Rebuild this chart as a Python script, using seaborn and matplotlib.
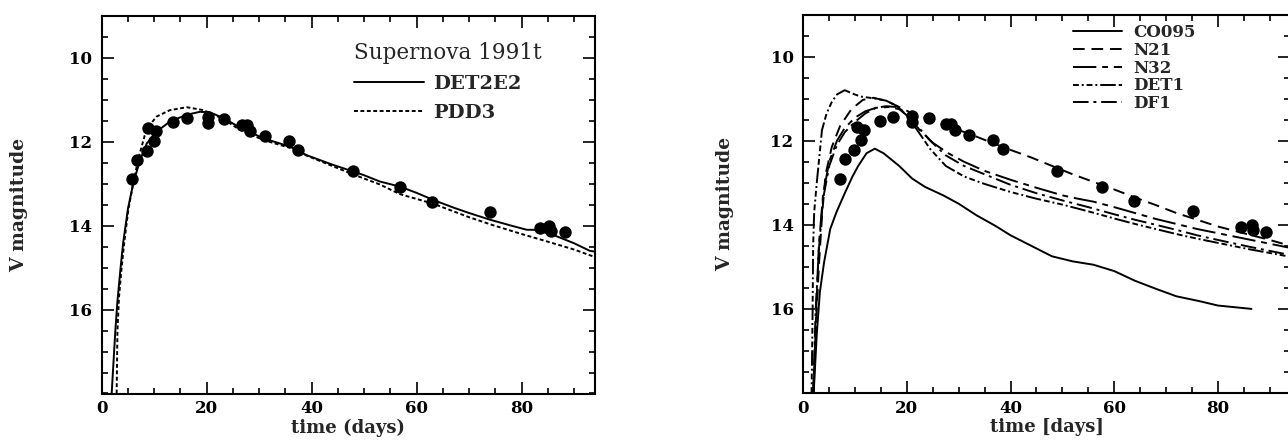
import matplotlib
matplotlib.use("Agg")
import matplotlib.pyplot as plt
from matplotlib.ticker import MultipleLocator
from matplotlib.font_manager import FontProperties
import seaborn as sns

# ---------------- data ----------------
# observed V magnitudes of SN 1991T
obs_mag = [12.9, 12.43, 12.23, 11.67, 11.99, 11.75, 11.54, 11.43, 11.41, 11.55,
           11.46, 11.6, 11.6, 11.74, 11.87, 11.99, 12.19, 12.71, 13.09, 13.43,
           13.68, 14.05, 14.0, 14.12, 14.16]
obs_t_left = [5.8, 6.8, 8.7, 8.9, 10.0, 10.4, 13.6, 16.3, 20.2, 20.2,
              23.3, 26.8, 27.6, 28.2, 31.1, 35.6, 37.5, 47.8, 56.8, 62.9,
              73.9, 83.5, 85.2, 85.6, 88.2]
obs_t_right = [7.0, 8.0, 9.8, 10.3, 11.1, 11.7, 14.9, 17.4, 20.9, 20.9,
               24.3, 27.5, 28.5, 29.3, 32.0, 36.7, 38.5, 48.9, 57.7, 63.9,
               75.3, 84.5, 86.6, 86.8, 89.4]

# left panel models
det2e2_t = [1.9, 2.6, 3.0, 3.6, 4.1, 5.0, 6.0, 7.3, 8.6, 10.5, 13.0, 16.2, 18.7, 20.6,
            23.2, 26.3, 30.8, 35.9, 39.0, 44.0, 47.9, 50.0, 53.0, 56.8, 60.0, 63.2,
            67.0, 70.0, 74.0, 78.0, 81.0, 82.5, 86.0, 90.0, 93.0, 94.0]
det2e2_m = [18.0, 16.5, 15.8, 15.0, 14.4, 13.6, 13.0, 12.44, 12.04, 11.76, 11.52, 11.36,
            11.29, 11.3, 11.44, 11.66, 11.92, 12.12, 12.32, 12.55, 12.71, 12.8, 12.95,
            13.07, 13.22, 13.39, 13.57, 13.7, 13.86, 14.0, 14.1, 14.1, 14.22, 14.42,
            14.6, 14.62]
pdd3_t = [2.85, 3.0, 3.3, 3.8, 4.3, 5.1, 6.0, 7.0, 8.2, 9.5, 10.5, 13.0, 16.2, 19.4,
          23.2, 26.3, 30.8, 35.9, 39.0, 47.9, 53.0, 56.8, 63.2, 70.0, 74.3, 80.0,
          86.0, 90.0, 94.0]
pdd3_m = [18.0, 16.5, 15.7, 15.0, 14.4, 13.6, 13.0, 12.4, 11.85, 11.55, 11.4, 11.25,
          11.18, 11.25, 11.46, 11.72, 11.96, 12.15, 12.33, 12.78, 13.02, 13.25, 13.48,
          13.8, 13.98, 14.2, 14.42, 14.57, 14.75]

# right panel models
co095_t = [2.0, 2.6, 3.2, 4.0, 5.2, 6.4, 8.0, 9.5, 10.6, 12.2, 13.8, 15.5, 18.5, 21.0,
           23.5, 27.0, 30.0, 33.5, 37.0, 40.0, 44.0, 48.0, 52.0, 56.0, 60.0, 64.0,
           68.0, 72.0, 76.6, 80.0, 86.5]
co095_m = [18.0, 16.6, 15.6, 14.9, 14.1, 13.7, 13.25, 12.85, 12.6, 12.3, 12.19, 12.3,
           12.6, 12.9, 13.1, 13.3, 13.5, 13.78, 14.02, 14.25, 14.5, 14.75, 14.87,
           14.95, 15.1, 15.33, 15.52, 15.7, 15.82, 15.92, 16.0]
n21_t = [1.9, 2.4, 3.0, 3.6, 4.3, 5.5, 7.1, 9.3, 11.5, 13.5, 16.0, 18.5, 21.0, 24.4,
         28.0, 32.3, 36.0, 40.0, 44.0, 48.0, 52.0, 56.0, 60.0, 64.0, 68.0, 72.0,
         76.0, 80.0, 85.0, 90.0, 94.0]
n21_m = [18.0, 16.5, 15.0, 13.8, 12.8, 12.15, 11.65, 11.25, 11.03, 10.98, 11.05, 11.2,
         11.35, 11.5, 11.66, 11.85, 12.03, 12.22, 12.4, 12.6, 12.8, 12.98, 13.16,
         13.35, 13.53, 13.72, 13.88, 14.04, 14.2, 14.36, 14.5]
n32_t = [2.0, 2.5, 3.0, 3.8, 5.0, 6.5, 8.0, 10.0, 12.0, 14.0, 16.5, 18.5, 20.5, 22.5,
         25.0, 28.0, 31.0, 35.0, 40.0, 45.0, 50.0, 53.0, 56.0, 60.0, 64.0, 68.0,
         72.0, 76.0, 80.0, 86.0, 90.0, 94.0]
n32_m = [18.0, 16.0, 14.5, 13.3, 12.5, 12.0, 11.7, 11.45, 11.3, 11.22, 11.2, 11.25,
         11.45, 11.75, 12.05, 12.3, 12.5, 12.72, 12.93, 13.12, 13.3, 13.38, 13.45,
         13.58, 13.72, 13.86, 13.98, 14.1, 14.2, 14.35, 14.45, 14.55]
det1_t = [1.6, 1.8, 1.9, 2.1, 2.6, 3.6, 4.5, 5.5, 6.5, 8.0, 9.5, 11.0, 14.0, 16.0,
          18.0, 20.0, 22.0, 24.5, 27.5, 31.0, 35.0, 40.0, 45.0, 50.0, 55.0, 60.0,
          64.0, 68.0, 72.0, 76.0, 80.0, 86.0, 90.0, 94.0]
det1_m = [18.0, 16.0, 14.5, 13.7, 13.0, 11.75, 11.35, 11.08, 10.9, 10.8, 10.88, 10.95,
          11.0, 11.05, 11.17, 11.4, 11.75, 12.2, 12.6, 12.85, 13.03, 13.22, 13.38,
          13.52, 13.68, 13.85, 13.98, 14.1, 14.22, 14.33, 14.43, 14.58, 14.67, 14.76]
df1_t = [1.9, 2.4, 3.0, 3.8, 5.0, 6.5, 8.0, 10.0, 12.0, 14.0, 16.0, 18.0, 20.0, 22.0,
         24.5, 27.5, 31.0, 35.0, 40.0, 45.0, 50.0, 55.0, 60.0, 64.0, 68.0, 72.0,
         76.0, 80.0, 86.0, 90.0, 94.0]
df1_m = [18.0, 16.0, 14.6, 13.4, 12.6, 12.1, 11.8, 11.55, 11.35, 11.22, 11.18, 11.2,
         11.35, 11.65, 12.0, 12.35, 12.6, 12.8, 13.05, 13.25, 13.42, 13.58, 13.75,
         13.88, 14.0, 14.12, 14.25, 14.36, 14.52, 14.62, 14.72]

xticks = [0, 20, 40, 60, 80]
yticks = [10, 12, 14, 16]

# ---------------- style ----------------
sns.set_theme(style="ticks")
plt.rcParams.update({
    "font.family": ["DejaVu Serif"],
    "font.weight": "bold",
    "axes.linewidth": 1.5,
    "xtick.direction": "in", "ytick.direction": "in",
    "xtick.top": True, "ytick.right": True,
    "xtick.major.size": 8.5, "ytick.major.size": 8.5,
    "xtick.minor.size": 4.5, "ytick.minor.size": 4.5,
    "xtick.major.width": 1.2, "ytick.major.width": 1.2,
    "xtick.minor.width": 1.2, "ytick.minor.width": 1.2,
    "xtick.labelsize": 12, "ytick.labelsize": 12,
    "xtick.color": "black", "ytick.color": "black",
    "axes.edgecolor": "black",
})

fig = plt.figure(figsize=(12.88, 4.43), dpi=100)
W, H = 1288.0, 443.0
ax1 = fig.add_axes([101.7 / W, (H - 393.5) / H, 493.3 / W, 377.8 / H])
ax2 = fig.add_axes([803.3 / W, (H - 393.0) / H, 487.0 / W, 378.5 / H])

LW = 1.4
def curve(ax, t, m, ls, label):
    sns.lineplot(x=t, y=m, ax=ax, color="black", linewidth=LW, linestyle=ls,
                 estimator=None, sort=False, label=label)

def dots(ax, t, m):
    sns.scatterplot(x=t, y=m, ax=ax, color="black", s=80, linewidth=0, zorder=5)

# left panel
curve(ax1, det2e2_t, det2e2_m, "-", "DET2E2")
curve(ax1, pdd3_t, pdd3_m, (0, (2.0, 1.3)), "PDD3")
dots(ax1, obs_t_left, obs_mag)

# right panel
curve(ax2, co095_t, co095_m, "-", "CO095")
curve(ax2, n21_t, n21_m, (0, (6, 3.5)), "N21")
curve(ax2, n32_t, n32_m, (0, (12, 3, 3, 3)), "N32")
curve(ax2, det1_t, det1_m, (0, (3, 1.5, 1, 1.5, 3, 1.5, 1, 1.5, 8, 1.5)), "DET1")
curve(ax2, df1_t, df1_m, (0, (8, 2.5, 1.5, 2.5)), "DF1")
dots(ax2, obs_t_right, obs_mag)

for ax, xl in ((ax1, "time (days)"), (ax2, "time [days]")):
    ax.set_xlim(0, 94)
    ax.set_ylim(18, 9)
    ax.set_xticks(xticks)
    ax.set_yticks(yticks)
    ax.xaxis.set_minor_locator(MultipleLocator(5))
    ax.yaxis.set_minor_locator(MultipleLocator(0.5))
    ax.tick_params(which="both", top=True, right=True, direction="in")
    ax.tick_params(axis="x", pad=5)
    ax.tick_params(axis="y", pad=7)
    for lab in ax.get_xticklabels() + ax.get_yticklabels():
        lab.set_fontweight("bold")
    ax.set_xlabel(xl, fontsize=13, fontweight="bold", labelpad=1)
    ax.set_ylabel("V magnitude", fontsize=13.5, fontweight="bold")
    for sp in ax.spines.values():
        sp.set_linewidth(1.5)

ax1.yaxis.set_label_coords(-0.149, 0.5)
ax2.yaxis.set_label_coords(-0.143, 0.5)

leg1 = ax1.legend(loc="upper left", bbox_to_anchor=(0.511, 0.93), frameon=False,
                  title="Supernova 1991t", alignment="left",
                  prop=FontProperties(family="DejaVu Serif", weight="bold", size=14),
                  title_fontproperties=FontProperties(family="DejaVu Serif",
                                                      weight="normal", size=15.5),
                  handlelength=3.6, handletextpad=0.5, labelspacing=0.55,
                  borderpad=0, borderaxespad=0)

leg2 = ax2.legend(loc="upper left", bbox_to_anchor=(0.554, 0.975), frameon=False,
                  prop=FontProperties(family="DejaVu Serif", weight="bold", size=12),
                  handlelength=2.95, handletextpad=0.66, labelspacing=0.05,
                  borderpad=0, borderaxespad=0)

fig.savefig("out.png", dpi=100)
